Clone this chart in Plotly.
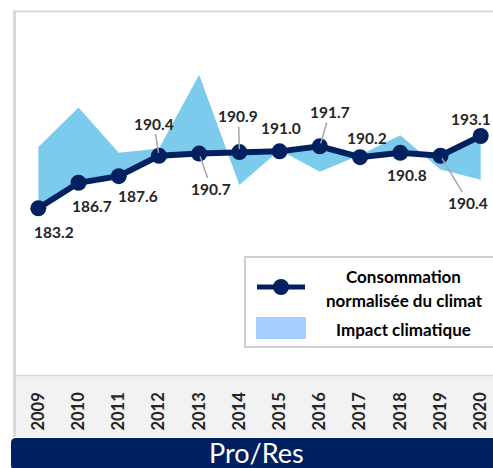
import plotly.graph_objects as go

# ---- data ----
years = [2009, 2010, 2011, 2012, 2013, 2014, 2015, 2016, 2017, 2018, 2019, 2020]
normalized = [183.2, 186.7, 187.6, 190.4, 190.7, 190.9, 191.0, 191.7, 190.2, 190.8, 190.4, 193.1]
actual = [191.6, 197.0, 190.8, 191.4, 201.5, 186.4, 191.2, 188.2, 190.5, 193.2, 188.5, 187.1]
tick_labels = [str(y) for y in years]
series_name = "Consommation normalisée du climat"
area_name = "Impact climatique"
banner_text = "Pro/Res"

# ---- label placement (pixel offsets, dy positive = down, leader line flag) ----
label_offsets = [(16, 24, False), (13, 23, False), (19, 20, False), (-5, -32, True),
                 (12, 35, True), (-1, -36, True), (1, -23, False), (10, -34, True),
                 (7, -19, False), (7, 22, False), (28, 47, True), (-10, -17, False)]

W, H = 493, 468
L, R, T, B = 16, 493, 13, 375
PW, PH = R - L, B - T


def px(x):
    return (x - L) / PW


def py(y):
    return (B - y) / PH


NAVY = "#002060"
AREA = "#7ccbec"
SWATCH = "#a6cfff"
GRID = "#d9d9d9"
FONT = "Lato"

fig = go.Figure()

fig.add_trace(go.Scatter(
    x=years + years[::-1], y=actual + normalized[::-1],
    fill="toself", fillcolor=AREA, line=dict(width=0), mode="lines",
    name=area_name, hoverinfo="skip", showlegend=False))

fig.add_trace(go.Scatter(
    x=years, y=normalized, mode="lines+markers", name=series_name,
    line=dict(color=NAVY, width=6), marker=dict(size=16, color=NAVY),
    showlegend=False))

label_font = dict(family=FONT, size=15.5, color="#262626", weight="bold")
annotations = []
for yr, v, (dx, dy, leader) in zip(years, normalized, label_offsets):
    txt = f"{v:.1f}"
    if leader:
        annotations.append(dict(x=yr, y=v, xref="x", yref="y", text=txt,
                                showarrow=True, arrowhead=0, arrowwidth=1.5,
                                arrowcolor="#a6a6a6", ax=dx, ay=dy, standoff=3,
                                font=label_font))
    else:
        annotations.append(dict(x=yr, y=v, xref="x", yref="y", text=txt,
                                showarrow=False, xshift=dx, yshift=-dy,
                                font=label_font))

legend_font = dict(family=FONT, size=17, color="#000000", weight="bold")
annotations += [
    dict(x=px(403), y=py(276), xref="paper", yref="paper", text="Consommation",
         xanchor="center", yanchor="middle", showarrow=False, font=legend_font),
    dict(x=px(404), y=py(300), xref="paper", yref="paper", text="normalisée du climat",
         xanchor="center", yanchor="middle", showarrow=False, font=legend_font),
    dict(x=px(403), y=py(329), xref="paper", yref="paper", text=area_name,
         xanchor="center", yanchor="middle", showarrow=False, font=legend_font),
    dict(x=px(256), y=py(452), xref="paper", yref="paper", text=banner_text,
         xanchor="center", yanchor="middle", showarrow=False,
         font=dict(family=FONT, size=27, color="#ffffff")),
]

shapes = [
    dict(type="rect", xref="paper", yref="paper", x0=px(16), x1=px(500), y0=py(437), y1=py(375),
         fillcolor="#f2f2f2", line=dict(width=0), layer="below"),
    dict(type="line", xref="paper", yref="paper", x0=px(16), x1=px(500), y0=py(375.5), y1=py(375.5),
         line=dict(color=GRID, width=1.5)),
    dict(type="line", xref="paper", yref="paper", x0=px(13), x1=px(500), y0=py(11.5), y1=py(11.5),
         line=dict(color=GRID, width=2)),
    dict(type="line", xref="paper", yref="paper", x0=px(14.5), x1=px(14.5), y0=py(10.5), y1=py(437),
         line=dict(color=GRID, width=3)),
    dict(type="rect", xref="paper", yref="paper", x0=px(245), x1=px(500), y0=py(347), y1=py(257),
         fillcolor="#ffffff", line=dict(color="#d0d0d0", width=2)),
    dict(type="line", xref="paper", yref="paper", x0=px(257), x1=px(305), y0=py(287), y1=py(287),
         line=dict(color=NAVY, width=5)),
    dict(type="circle", xref="paper", yref="paper", x0=px(273), x1=px(289), y0=py(295), y1=py(279),
         fillcolor=NAVY, line=dict(width=0)),
    dict(type="rect", xref="paper", yref="paper", x0=px(256), x1=px(306), y0=py(339), y1=py(317),
         fillcolor=SWATCH, line=dict(width=0)),
]

r = 5
bx0, bx1, by0, by1 = 11, 500, 438, 470
pts = (f"M {px(bx0 + r)},{py(by0)} L {px(bx1)},{py(by0)} L {px(bx1)},{py(by1)} "
       f"L {px(bx0 + r)},{py(by1)} Q {px(bx0)},{py(by1)} {px(bx0)},{py(by1 - r)} "
       f"L {px(bx0)},{py(by0 + r)} Q {px(bx0)},{py(by0)} {px(bx0 + r)},{py(by0)} Z")
shapes.append(dict(type="path", xref="paper", yref="paper", path=pts,
                   fillcolor=NAVY, line=dict(width=0), layer="below"))

x_lo = 2009 - (38.3 - L) / 40.24
x_hi = 2020 + (R - 480.7) / 40.24
y_per_px = 1 / 7.3
y_top = 183.2 + (208.3 - T) * y_per_px
y_bot = 183.2 - (B - 208.3) * y_per_px

fig.update_layout(
    width=W, height=H, margin=dict(l=L, r=W - R, t=T, b=H - B, pad=0),
    paper_bgcolor="#ffffff", plot_bgcolor="rgba(0,0,0,0)",
    shapes=shapes, annotations=annotations, showlegend=False,
    xaxis=dict(range=[x_lo, x_hi], tickvals=years, ticktext=tick_labels, tickangle=-90,
               showgrid=False, zeroline=False, showline=False, ticks="",
               ticklabelstandoff=13,
               tickfont=dict(family=FONT, size=16.5, color="#262626", weight="bold")),
    yaxis=dict(range=[y_bot, y_top], visible=False, fixedrange=True),
)

fig.write_html("out.html")
